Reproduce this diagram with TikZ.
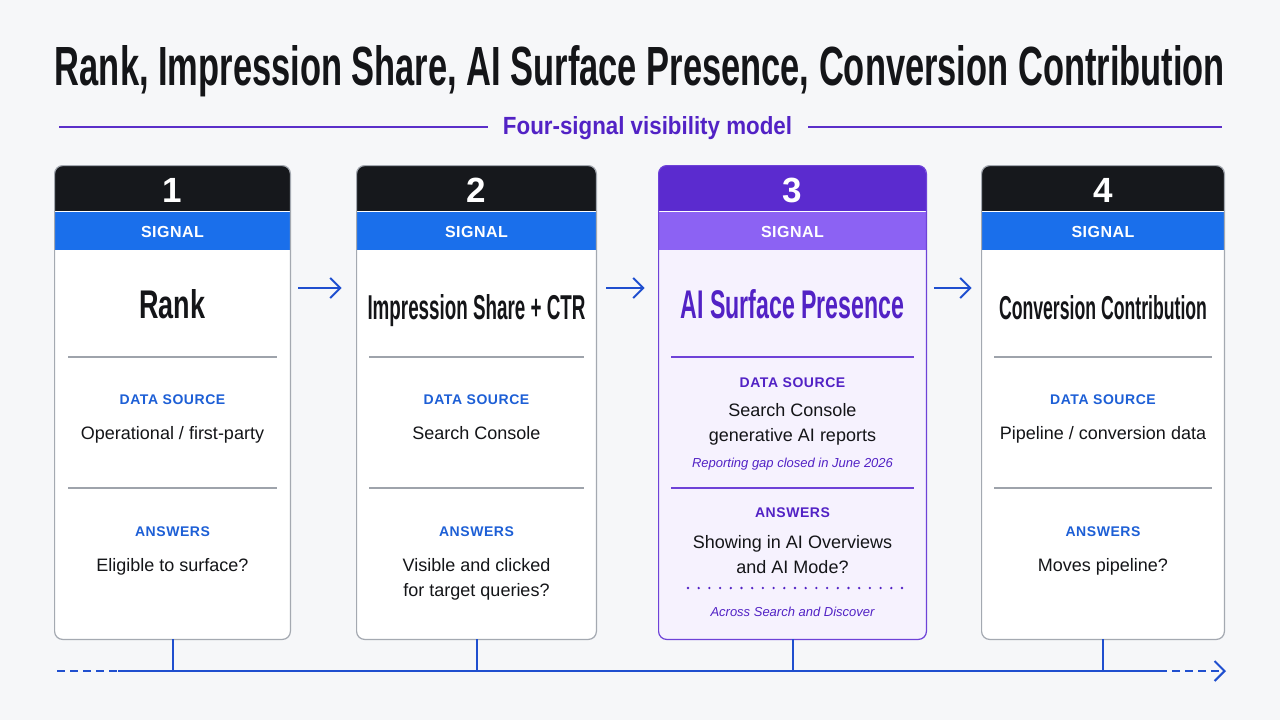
\documentclass[tikz,border=0pt]{standalone}
\usepackage{graphicx}
\usepackage{fontspec}
\setmainfont{Liberation Sans}
\newfontfamily\trackfont[LetterSpace=4]{Liberation Sans}
\newfontfamily\sigfont[LetterSpace=3]{Liberation Sans}
\usetikzlibrary{arrows.meta}
\definecolor{bgc}{HTML}{F6F7F9}
\definecolor{ink}{HTML}{141518}
\definecolor{hdrblack}{HTML}{16181C}
\definecolor{bandblue}{HTML}{1A6FEB}
\definecolor{hdrpurple}{HTML}{5B2BCF}
\definecolor{bandpurple}{HTML}{8C62F3}
\definecolor{purpletxt}{HTML}{5222C5}
\definecolor{purpleline}{HTML}{5B2FC9}
\definecolor{cardpfill}{HTML}{F6F2FE}
\definecolor{cardpborder}{HTML}{6E42D8}
\definecolor{labelblue}{HTML}{1D5FD6}
\definecolor{flowblue}{HTML}{1F4FCF}
\definecolor{cardborder}{HTML}{A4A9B1}
\definecolor{divgray}{HTML}{9EA3AB}

\newcommand\sigcard[8]{%
  \pgfmathsetmacro\cxx{(#2+#3)/2}
  \node[cardbox, fill=#7, minimum width={(#3-#2)*0.5pt}, minimum height={473*0.5pt}] (#1) at (\cxx,402.5) {};
  \fill[#5, rounded corners=4pt] (#1.north west) rectangle (#3,230);
  \fill[#6] (#2,211) rectangle (#3,250);
  \draw[white, line width=0.5pt] (#2,211) -- (#3,211);
  \draw[#8, line width=0.6pt, rounded corners=4pt] (#1.north west) rectangle (#1.south east);
  \node[numlbl] (#1num) at (\cxx,189.5) {#4};
  \node[siglbl] (#1sig) at (\cxx,231.5) {SIGNAL};
}

\begin{document}
\begin{tikzpicture}[x=0.5pt,y=-0.5pt,
  txt/.style={inner sep=0pt, text depth=0pt, anchor=center},
  numlbl/.style={txt, text height=12.6pt, text=white, font=\bfseries\fontsize{17.5pt}{20pt}\selectfont},
  siglbl/.style={txt, text height=5.8pt, text=white, font=\sigfont\bfseries\fontsize{8pt}{10pt}\selectfont},
  seclbl/.style={txt, text height=5pt, text=labelblue, font=\trackfont\bfseries\fontsize{7pt}{9pt}\selectfont},
  seclblp/.style={seclbl, text=purpletxt},
  bodytxt/.style={txt, text height=6.5pt, text=ink, font=\fontsize{9pt}{11pt}\selectfont},
  notetxt/.style={txt, text height=4.7pt, text=purpletxt, font=\itshape\fontsize{6.5pt}{8pt}\selectfont},
  cardtitle/.style={inner sep=0pt, anchor=base, text=ink, font=\bfseries},
  cardbox/.style={draw=none, inner sep=0pt, rounded corners=4pt},
  divider/.style={draw=divgray, line width=0.6pt},
  dividerp/.style={draw=cardpborder, line width=0.8pt},
  flow/.style={draw=flowblue, line width=1pt, -{Straight Barb[length=5pt,width=10pt]}},
  tline/.style={draw=flowblue, line width=1pt},
]
\fill[bgc] (0,0) rectangle (1280,720);
\useasboundingbox (0,0) rectangle (1280,720);

% title
\node[inner sep=0pt, anchor=base, text=ink, font=\bfseries] (title) at (640,85)
  {\resizebox{585pt}{20pt}{Rank, Impression Share, AI Surface Presence, Conversion Contribution}};

% subtitle
\node[inner sep=0pt, anchor=base, text=purpletxt, font=\bfseries] (sub) at (647.5,134)
  {\resizebox{144.5pt}{9pt}{Four-signal visibility model}};
\coordinate (sl) at (59,127);
\coordinate (sr) at (1222,127);
\draw[purpleline, line width=1pt, shorten >=7.5pt] (sl) -- (sub.west |- sl);
\draw[purpleline, line width=1pt, shorten <=8pt] (sub.east |- sr) -- (sr);

% card 1
\sigcard{c1}{55}{290}{1}{hdrblack}{bandblue}{white}{cardborder}
\node[cardtitle] (c1t) at (172.5,318.5) {\resizebox{33pt}{14.5pt}{Rank}};
\draw[divider] (68,357) -- (277,357);
\node[seclbl] (c1ds) at (172.5,399) {DATA SOURCE};
\node[bodytxt] (c1dv) at (172.5,432.5) {Operational / first-party};
\draw[divider] (68,488) -- (277,488);
\node[seclbl] (c1an) at (172.5,531) {ANSWERS};
\node[bodytxt] (c1av) at (172.5,564.5) {Eligible to surface?};

% card 2
\sigcard{c2}{357}{596}{2}{hdrblack}{bandblue}{white}{cardborder}
\node[cardtitle] (c2t) at (476.5,319) {\resizebox{109pt}{12.5pt}{Impression Share + CTR}};
\draw[divider] (369,357) -- (584,357);
\node[seclbl] (c2ds) at (476.5,399) {DATA SOURCE};
\node[bodytxt] (c2dv) at (476.5,432.5) {Search Console};
\draw[divider] (369,488) -- (584,488);
\node[seclbl] (c2an) at (476.5,531) {ANSWERS};
\node[bodytxt] (c2av) at (476.5,564.5) {Visible and clicked};
\node[bodytxt] (c2av2) at (476.5,589.5) {for target queries?};

% card 3
\sigcard{c3}{659}{926}{3}{hdrpurple}{bandpurple}{cardpfill}{cardpborder}
\node[cardtitle, text=purpletxt] (c3t) at (792.5,318) {\resizebox{112pt}{14.5pt}{AI Surface Presence}};
\draw[dividerp] (671,357) -- (914,357);
\node[seclblp] (c3ds) at (792.5,382.5) {DATA SOURCE};
\node[bodytxt] (c3dv) at (792.5,410) {Search Console};
\node[bodytxt] (c3dv2) at (792.5,435) {generative AI reports};
\node[notetxt] (c3note) at (792.5,462.5) {Reporting gap closed in June 2026};
\draw[dividerp] (671,488) -- (914,488);
\node[seclblp] (c3an) at (792.5,512.5) {ANSWERS};
\node[bodytxt] (c3av) at (792.5,541.5) {Showing in AI Overviews};
\node[bodytxt] (c3av2) at (792.5,566.5) {and AI Mode?};
\draw[purpletxt, line width=1.3pt, line cap=round, dash pattern=on 0pt off 5.35pt] (688,588) -- (902,588);
\node[notetxt] (c3note2) at (792.5,611.5) {Across Search and Discover};

% card 4
\sigcard{c4}{982}{1224}{4}{hdrblack}{bandblue}{white}{cardborder}
\node[cardtitle] (c4t) at (1103,319) {\resizebox{104pt}{12pt}{Conversion Contribution}};
\draw[divider] (994,357) -- (1212,357);
\node[seclbl] (c4ds) at (1103,399) {DATA SOURCE};
\node[bodytxt] (c4dv) at (1103,432.5) {Pipeline / conversion data};
\draw[divider] (994,488) -- (1212,488);
\node[seclbl] (c4an) at (1103,531) {ANSWERS};
\node[bodytxt] (c4av) at (1103,564.5) {Moves pipeline?};

% arrows between cards
\coordinate (ay) at (0,288);
\draw[flow, shorten <=4pt, shorten >=7.5pt] (c1.east |- ay) -- (c2.west |- ay);
\draw[flow, shorten <=5pt, shorten >=7pt] (c2.east |- ay) -- (c3.west |- ay);
\draw[flow, shorten <=3.75pt, shorten >=5pt] (c3.east |- ay) -- (c4.west |- ay);

% timeline
\coordinate (t0) at (57,671);
\coordinate (t1) at (118,671);
\coordinate (t2) at (1159,671);
\coordinate (t3) at (1226,671);
\draw[tline, dash pattern=on 4pt off 2.5pt] (t0) -- (t1);
\draw[tline] (t1) -- (t2);
\draw[tline, dash pattern=on 4pt off 2.5pt, -{Straight Barb[length=5pt,width=10pt]}] (t2) -- (t3);
\draw[tline] (c1.south) -- (c1.south |- t1);
\draw[tline] (c2.south) -- (c2.south |- t1);
\draw[tline] (c3.south) -- (c3.south |- t1);
\draw[tline] (c4.south) -- (c4.south |- t1);
\end{tikzpicture}
\end{document}
